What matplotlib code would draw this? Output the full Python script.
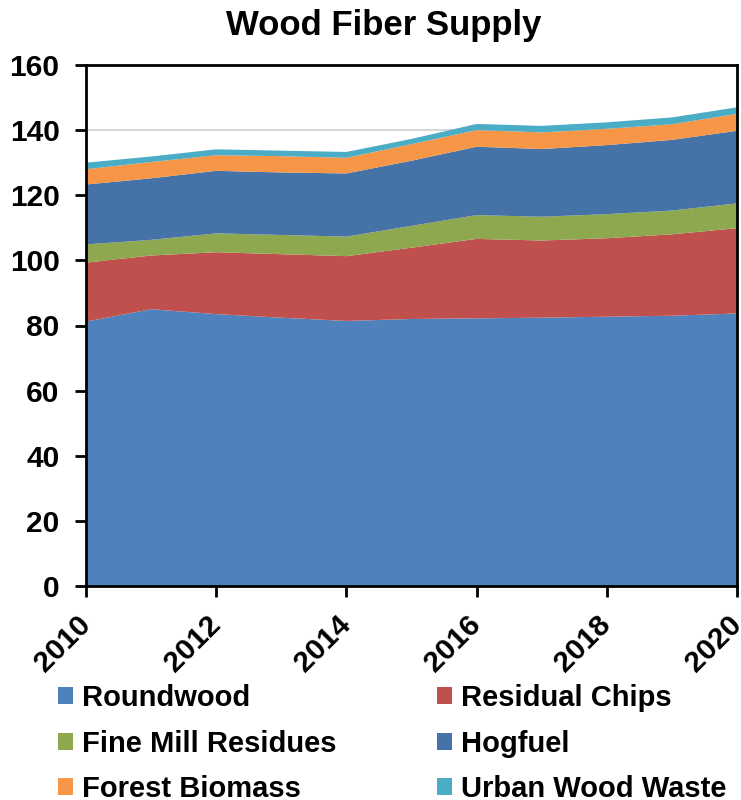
import matplotlib.pyplot as plt

years = [2010, 2011, 2012, 2013, 2014, 2015, 2016, 2017, 2018, 2019, 2020]

# supply by source, stacked bottom to top
roundwood = [81.2, 85.0, 83.5, 82.4, 81.4, 82.0, 82.2, 82.4, 82.7, 83.0, 83.7]
residual_chips = [18.1, 16.5, 19.0, 19.5, 19.9, 21.9, 24.4, 23.7, 24.1, 25.0, 26.2]
fine_mill_residues = [5.6, 4.8, 5.8, 5.9, 6.0, 6.7, 7.3, 7.3, 7.4, 7.3, 7.6]
hogfuel = [18.4, 18.9, 19.2, 19.2, 19.4, 20.0, 21.0, 20.8, 21.2, 21.7, 22.3]
forest_biomass = [4.7, 5.0, 4.8, 5.0, 4.8, 5.1, 5.1, 5.1, 5.0, 4.8, 5.2]
urban_wood_waste = [2.0, 1.7, 1.8, 1.7, 1.8, 1.6, 1.9, 2.0, 2.0, 2.1, 2.0]

labels = ["Roundwood", "Residual Chips", "Fine Mill Residues",
          "Hogfuel", "Forest Biomass", "Urban Wood Waste"]
colors = ["#4F81BD", "#C0504D", "#8DA84F", "#4573A7", "#F79646", "#4BACC6"]

plt.rcParams["font.family"] = ["Liberation Sans", "DejaVu Sans"]
plt.rcParams["font.weight"] = "bold"

fig = plt.figure(figsize=(7.41, 8.0), dpi=100)
ax = fig.add_axes([86 / 741, 1 - 586 / 800, 651 / 741, 521 / 800])

polys = ax.stackplot(years, roundwood, residual_chips, fine_mill_residues,
                     hogfuel, forest_biomass, urban_wood_waste,
                     colors=colors, labels=labels, linewidth=0)

ax.set_xlim(2010, 2020)
ax.set_ylim(0, 160)
ax.set_xticks(range(2010, 2021, 2))
ax.set_yticks(range(0, 161, 20))
ax.set_axisbelow(True)
ax.grid(axis="y", color="#D0D0D0", linewidth=1.2)

for s in ax.spines.values():
    s.set_linewidth(2)
    s.set_color("black")

ax.tick_params(axis="both", direction="out", length=8, width=2, labelsize=21.5)
ax.tick_params(axis="y", pad=11)
ax.tick_params(axis="x", pad=17)
for lab in ax.get_xticklabels():
    lab.set_rotation(45)
    lab.set_ha("right")
    lab.set_va("center")
    lab.set_rotation_mode("anchor")
    lab.set_fontweight("bold")
for lab in ax.get_yticklabels():
    lab.set_fontweight("bold")

fig.text(383.5 / 741, 1 - 26 / 800, "Wood Fiber Supply", fontsize=25,
         fontweight="bold", ha="center", va="center")

# legend reads row-wise in two columns
order = [0, 2, 4, 1, 3, 5]
fig.legend([polys[i] for i in order], [labels[i] for i in order],
           loc="upper left", bbox_to_anchor=(58 / 741, 1 - 684 / 800),
           ncol=2, frameon=False, fontsize=21,
           handlelength=0.52, handleheight=0.52, handletextpad=0.3,
           columnspacing=3.45, labelspacing=0.6, borderpad=0,
           borderaxespad=0)

fig.savefig("out.png", dpi=100)
